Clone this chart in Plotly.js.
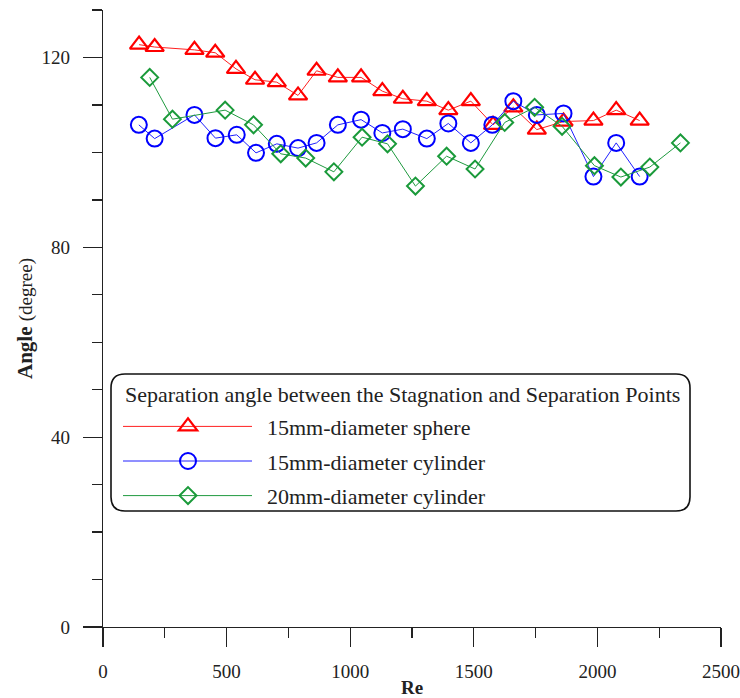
<!DOCTYPE html>
<html>
<head>
<meta charset="utf-8">
<script src="https://cdn.plot.ly/plotly-3.0.1.min.js"></script>
<style>html,body{margin:0;padding:0;background:#fff;}</style>
</head>
<body>
<div id="chart" style="width:740px;height:698px;"></div>
<script>
// Data
const reSphere = [146,209,370,454,538,615,703,789,864,950,1044,1130,1213,1310,1397,1488,1578,1660,1755,1863,1984,2076,2171];
const angSphere = [122.7,122.2,121.6,121.0,117.6,115.3,114.8,112.0,117.2,115.8,115.8,112.9,111.3,110.8,108.9,110.8,105.8,109.5,104.8,106.5,106.7,108.9,106.7];

const reCyl15 = [145,209,370,455,541,619,703,789,864,950,1044,1130,1213,1310,1397,1488,1575,1660,1755,1863,1984,2076,2171];
const angCyl15 = [105.8,102.9,107.9,103.0,103.7,99.9,101.8,100.9,102.0,105.8,106.9,104.1,104.9,102.9,106.1,102.0,105.8,110.8,107.9,108.2,94.9,102.0,94.9];

const reCyl20 = [189,281,494,609,719,820,934,1048,1151,1264,1390,1505,1625,1746,1857,1988,2095,2212,2336];
const angCyl20 = [115.8,107.0,108.9,105.8,99.7,98.8,95.9,103.2,101.8,92.9,99.2,96.5,106.3,109.5,105.5,97.2,94.8,96.9,102.0];

const seriesNames = ['15mm-diameter sphere','15mm-diameter cylinder','20mm-diameter cylinder'];
const legendTitle = 'Separation angle between the Stagnation and Separation Points';
const xTitle = '<b>Re</b>';
const yTitle = '<b>Angle</b> <span style="font-size:19px">(degree)</span>';

const FONT = '"Liberation Serif", "Times New Roman", serif';
const W = 740, H = 698, M = {l:103, r:19, t:10, b:71};
const PW = W - M.l - M.r, PH = H - M.t - M.b;
const px2x = p => (p - M.l) / PW;
const py2y = p => (H - M.b - p) / PH;

function roundedRect(x0p, y0p, x1p, y1p, r) {
  const X = px2x, Y = py2y;
  return 'M' + X(x0p + r) + ',' + Y(y0p) +
    ' L' + X(x1p - r) + ',' + Y(y0p) +
    ' Q' + X(x1p) + ',' + Y(y0p) + ' ' + X(x1p) + ',' + Y(y0p + r) +
    ' L' + X(x1p) + ',' + Y(y1p - r) +
    ' Q' + X(x1p) + ',' + Y(y1p) + ' ' + X(x1p - r) + ',' + Y(y1p) +
    ' L' + X(x0p + r) + ',' + Y(y1p) +
    ' Q' + X(x0p) + ',' + Y(y1p) + ' ' + X(x0p) + ',' + Y(y1p - r) +
    ' L' + X(x0p) + ',' + Y(y0p + r) +
    ' Q' + X(x0p) + ',' + Y(y0p) + ' ' + X(x0p + r) + ',' + Y(y0p) + ' Z';
}

const traces = [
  {x: reSphere, y: angSphere, name: seriesNames[0], legendgroup: 'a', mode: 'lines+markers',
   line: {color: '#ff2020', width: 1},
   marker: {symbol: 'triangle-up-open', size: 16, color: '#ff0000', line: {width: 2.2, color: '#ff0000'}}},
  {x: reCyl15, y: angCyl15, name: seriesNames[1], legendgroup: 'b', mode: 'lines+markers',
   line: {color: '#2020ff', width: 1},
   marker: {symbol: 'circle-open', size: 16, color: '#0000ff', line: {width: 2, color: '#0000ff'}}},
  {x: reCyl20, y: angCyl20, name: seriesNames[2], legendgroup: 'c', mode: 'lines+markers',
   line: {color: '#1f9a3f', width: 1},
   marker: {symbol: 'diamond-open', size: 13, color: '#1a9a3a', line: {width: 2, color: '#1a9a3a'}}}
];

const axisCommon = {
  showline: true, linecolor: '#222', linewidth: 1.3, mirror: false,
  showgrid: false, zeroline: false,
  ticks: 'outside', ticklen: 19, tickwidth: 1.3, tickcolor: '#222',
  tickfont: {family: FONT, size: 19, color: '#222'},
  fixedrange: true
};

const layout = {
  width: W, height: H,
  margin: {l: M.l, r: M.r, t: M.t, b: M.b, pad: 0},
  paper_bgcolor: '#fff', plot_bgcolor: '#fff',
  showlegend: true,
  xaxis: Object.assign({}, axisCommon, {
    range: [0, 2500], dtick: 500, tick0: 0,
    ticklabeloverflow: 'allow', ticklabelstandoff: 8,
    minor: {dtick: 250, ticks: 'outside', ticklen: 10, tickwidth: 1.3, tickcolor: '#222', showgrid: false},
    title: {text: xTitle, font: {family: FONT, size: 19, color: '#222'}, standoff: 6}
  }),
  yaxis: Object.assign({}, axisCommon, {
    range: [0, 130], dtick: 40, tick0: 0,
    ticklabelstandoff: 9,
    minor: {dtick: 10, ticks: 'outside', ticklen: 10, tickwidth: 1.3, tickcolor: '#222', showgrid: false},
    title: {text: yTitle, font: {family: FONT, size: 21, color: '#222'}, standoff: 3}
  }),
  legend: {
    x: px2x(123), y: py2y(375), xanchor: 'left', yanchor: 'top',
    bgcolor: 'rgba(0,0,0,0)', borderwidth: 0,
    font: {family: FONT, size: 22, color: '#222'},
    title: {text: legendTitle, side: 'top', font: {family: FONT, size: 22, color: '#222'}},
    tracegroupgap: 3, traceorder: 'grouped',
    itemwidth: 134
  },
  shapes: [{
    type: 'path', xref: 'paper', yref: 'paper',
    path: roundedRect(111, 374, 690, 511, 14),
    line: {color: '#111', width: 1.6}, fillcolor: 'rgba(0,0,0,0)', layer: 'below'
  }]
};

Plotly.newPlot('chart', traces, layout, {displayModeBar: false, staticPlot: true}).then(gd => {
  // lengthen legend sample lines to match the reference style
  gd.querySelectorAll('.legend .traces').forEach(tr => {
    tr.querySelectorAll('path.js-line').forEach(p => p.setAttribute('d', 'M0,0h129'));
    tr.querySelectorAll('.legendpoints path.scatterpts').forEach(p => p.setAttribute('transform', 'translate(65,0)'));
    tr.querySelectorAll('.layers').forEach(l => l.setAttribute('transform', 'translate(0,2)'));
    tr.querySelectorAll('text.legendtext').forEach(t => t.setAttribute('transform', 'translate(0,2)'));
  });
  gd.querySelectorAll('.legend .legendtitletext').forEach(t => t.setAttribute('transform', 'translate(0,-2)'));
});
</script>
</body>
</html>
